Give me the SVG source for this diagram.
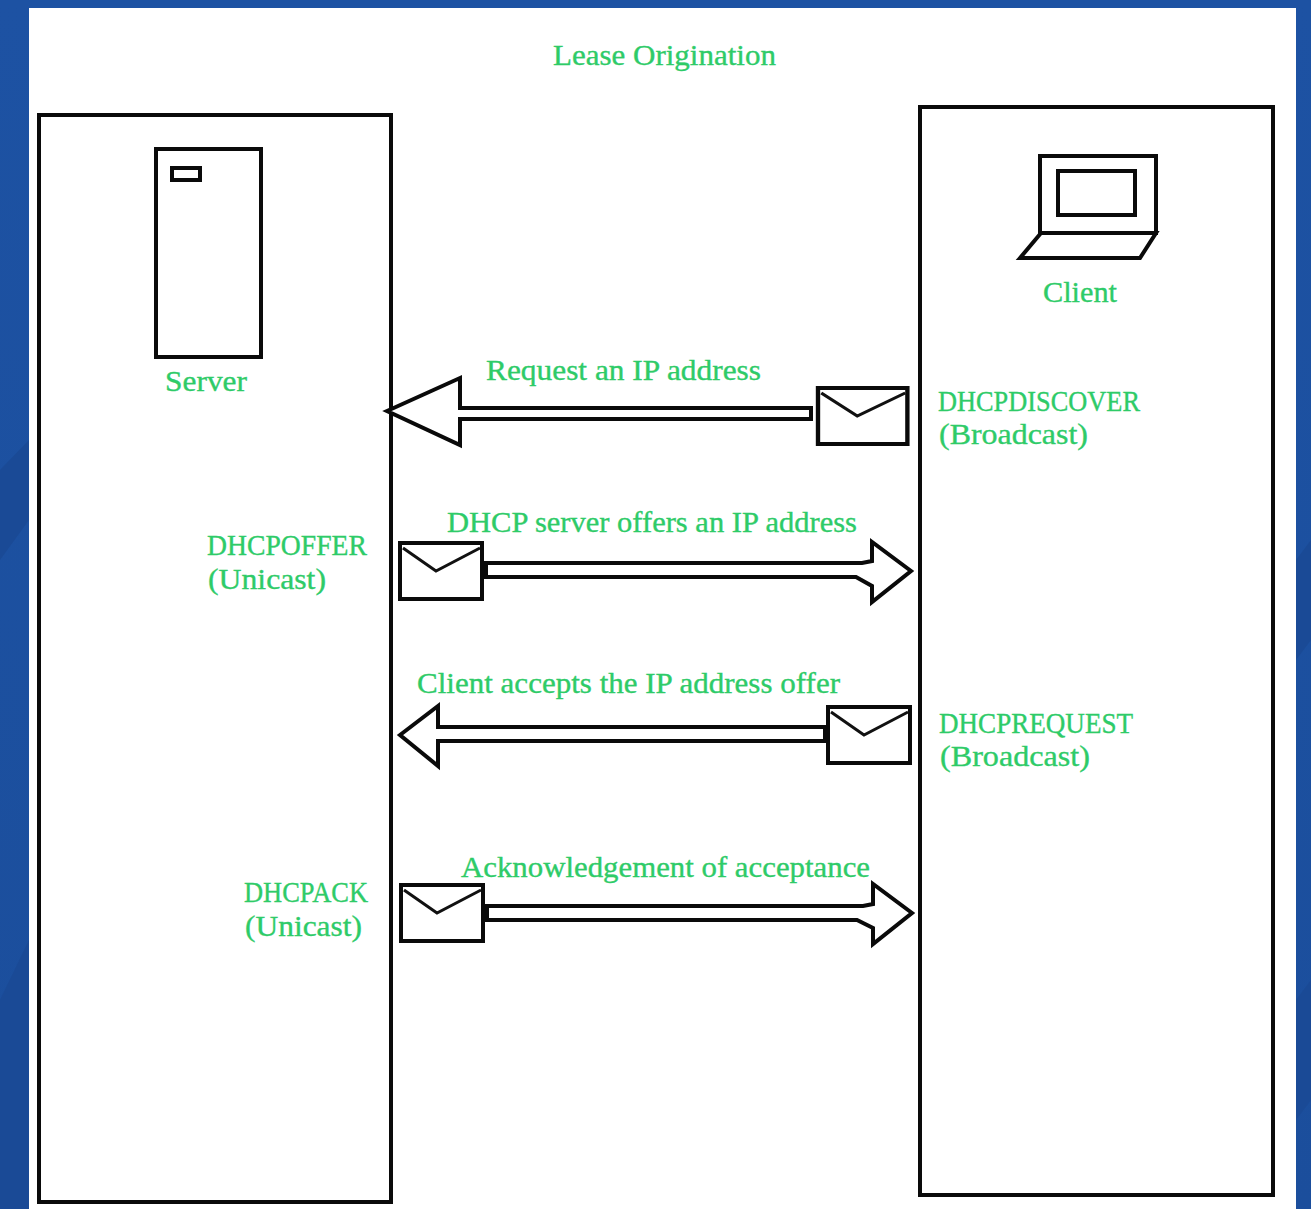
<svg xmlns="http://www.w3.org/2000/svg" width="1311" height="1209" viewBox="0 0 1311 1209">
<defs>
<linearGradient id="bg" x1="0" y1="0" x2="0" y2="1"><stop offset="0" stop-color="#1d52a3"/><stop offset="1" stop-color="#1b4e9c"/></linearGradient>
<g id="env"><rect x="0" y="0" width="82" height="56" class="s"/><path d="M3 5L36 28L80 5" class="t"/></g>
</defs>
<style>
.s{fill:#fff;stroke:#0a0a0a;stroke-width:4}
.t{fill:none;stroke:#111;stroke-width:3}
.a{fill:#fff;stroke:#0a0a0a;stroke-width:4;stroke-linejoin:miter}
text{font-family:"Liberation Serif","Times New Roman",serif;font-size:29px;fill:#2ecb68;stroke:#2ecb68;stroke-width:.35}
</style>
<rect width="1311" height="1209" fill="url(#bg)"/>
<path d="M0 470L29 440V520L0 560ZM0 1000L29 940V1209H0Z" fill="#1a4a96"/>
<path d="M1296 560L1311 540V640L1296 660ZM1296 1000L1311 980V1100L1296 1120Z" fill="#1a4a96"/>
<rect x="29" y="8" width="1267" height="1201" fill="#fff"/>
<text id="title" x="553" y="65" textLength="223" lengthAdjust="spacingAndGlyphs">Lease Origination</text>
<g id="server">
<rect x="39" y="115" width="352" height="1087" class="s"/>
<rect x="156" y="149" width="105" height="208" class="s"/>
<rect x="172" y="168" width="28" height="12" class="s"/>
<text x="165" y="391" textLength="82" lengthAdjust="spacingAndGlyphs">Server</text>
<text x="207" y="555" textLength="160" lengthAdjust="spacingAndGlyphs">DHCPOFFER</text>
<text x="208" y="589" textLength="118" lengthAdjust="spacingAndGlyphs">(Unicast)</text>
<text x="244" y="902" textLength="124" lengthAdjust="spacingAndGlyphs">DHCPACK</text>
<text x="245" y="936" textLength="117" lengthAdjust="spacingAndGlyphs">(Unicast)</text>
</g>
<g id="client">
<rect x="920" y="107" width="353" height="1088" class="s"/>
<rect x="1040" y="156" width="116" height="77" class="s"/>
<rect x="1058" y="171" width="77" height="44" class="s"/>
<path d="M1041 233L1020 258H1140L1156 233Z" class="s"/>
<text x="1043" y="302" textLength="74" lengthAdjust="spacingAndGlyphs">Client</text>
<text x="938" y="411" textLength="202" lengthAdjust="spacingAndGlyphs">DHCPDISCOVER</text>
<text x="939" y="444" textLength="149" lengthAdjust="spacingAndGlyphs">(Broadcast)</text>
<text x="939" y="733" textLength="194" lengthAdjust="spacingAndGlyphs">DHCPREQUEST</text>
<text x="940" y="766" textLength="150" lengthAdjust="spacingAndGlyphs">(Broadcast)</text>
</g>
<g id="connectors">
<path class="a" d="M387 411L460 378V408H811V419H460V445Z"/>
<path class="a" d="M486 563H862L872 561V542L911 571L872 602V586L856 577H486Z"/>
<path class="a" d="M400 735L438 706V727H825V741H438V766Z"/>
<path class="a" d="M487 906H863L873 904V884L912 913L873 944V928L857 920H487Z"/>
</g>
<g id="envelopes">
<use href="#env" transform="translate(818 388) scale(1.09 1)"/>
<use href="#env" x="400" y="543"/>
<use href="#env" x="828" y="707"/>
<use href="#env" x="401" y="885"/>
</g>
<g id="labels">
<text x="486" y="380" textLength="275" lengthAdjust="spacingAndGlyphs">Request an IP address</text>
<text x="447" y="532" textLength="410" lengthAdjust="spacingAndGlyphs">DHCP server offers an IP address</text>
<text x="417" y="693" textLength="423" lengthAdjust="spacingAndGlyphs">Client accepts the IP address offer</text>
<text x="461" y="877" textLength="409" lengthAdjust="spacingAndGlyphs">Acknowledgement of acceptance</text>
</g>
</svg>
